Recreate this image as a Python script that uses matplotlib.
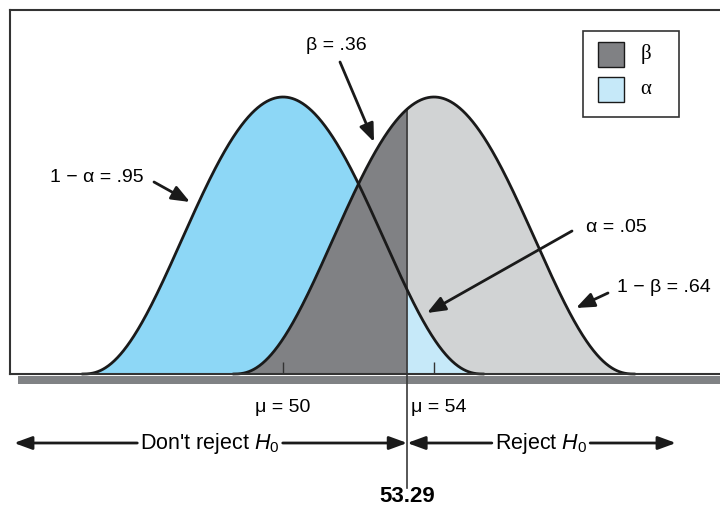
import numpy as np
import matplotlib
matplotlib.use('Agg')
import matplotlib.pyplot as plt
from matplotlib.patches import Rectangle

# values
means = [50, 54]          # mu under H0 and under H1
crit = 53.29              # critical value
mean_labels = ['μ = 50', 'μ = 54']
crit_label = '53.29'
area_labels = ['β = .36', '1 − α = .95', 'α = .05', '1 − β = .64']
legend_labels = ['β', 'α']
region_labels = ["Don't reject $H_0$", 'Reject $H_0$']

plt.rcParams['font.family'] = ['Liberation Sans', 'DejaVu Sans']
plt.rcParams['mathtext.fontset'] = 'custom'
plt.rcParams['mathtext.rm'] = 'Liberation Sans'
plt.rcParams['mathtext.it'] = 'Liberation Sans:italic'

blue = '#8dd7f6'
light_blue = '#c6e9f9'
dark_gray = '#808184'
light_gray = '#d1d3d4'
ink = '#1a1a1a'

W, H = 720, 517
fig = plt.figure(figsize=(7.2, 5.17), dpi=100)
ax = fig.add_axes([0, 0, 1, 1])
PX = 37.75                 # pixels per unit on x
x0 = means[0] - 283 / PX
ax.set_xlim(x0, x0 + W / PX)
ax.set_ylim(-(H - 374) / 277, 374 / 277)
ax.axis('off')

def X(px):
    return x0 + px / PX

def Y(py):
    return (374 - py) / 277

# stylised bell curve
half = 5.3
k = 2.45
def bell(x, mu):
    u = np.clip((np.asarray(x) - mu) / half, -1, 1)
    return (1 - u ** 2) ** k

m0, m1 = means
xl_a = np.linspace(m0 - half, crit, 400)
xl_b = np.linspace(crit, m0 + half, 400)
xr_a = np.linspace(m1 - half, crit, 400)
xr_b = np.linspace(crit, m1 + half, 400)

ax.fill_between(xr_b, bell(xr_b, m1), color=light_gray, lw=0, zorder=1)
ax.fill_between(xl_a, bell(xl_a, m0), color=blue, lw=0, zorder=2)
ax.fill_between(xr_a, bell(xr_a, m1), color=dark_gray, lw=0, zorder=3)
ax.fill_between(xl_b, bell(xl_b, m0), color=light_blue, lw=0, zorder=4)

# critical line
ax.plot([crit, crit], [Y(488), bell(crit, m1)], color='#3a3a3a', lw=1.2, zorder=5)

# curves
xl = np.linspace(m0 - half, m0 + half, 800)
xr = np.linspace(m1 - half, m1 + half, 800)
ax.plot(xl, bell(xl, m0), color=ink, lw=2, zorder=6)
ax.plot(xr, bell(xr, m1), color=ink, lw=2, zorder=6)

# mean ticks
ax.vlines(means, 0, Y(362), color='#333333', lw=1, zorder=6)

# frame and shadow
ax.add_patch(Rectangle((X(18), Y(384)), X(730) - X(18), Y(376) - Y(384),
                       color='#808285', lw=0, zorder=0))
ax.plot([X(10), X(10)], [0, Y(10)], color='#333333', lw=1.5, zorder=7)
ax.plot([X(10), X(730)], [Y(10), Y(10)], color='#333333', lw=1.5, zorder=7)
ax.plot([X(10), X(730)], [0, 0], color='#333333', lw=1.5, zorder=7)

# legend
ax.add_patch(Rectangle((X(583), Y(117)), X(679) - X(583), Y(31) - Y(117),
                       facecolor='white', edgecolor='#333333', lw=1.2, zorder=8))
for (top, col), lab in zip([(42, dark_gray), (77, light_blue)], legend_labels):
    ax.add_patch(Rectangle((X(598), Y(top + 25)), X(624) - X(598), Y(top) - Y(top + 25),
                           facecolor=col, edgecolor=ink, lw=1, zorder=9))
    ax.text(X(646), Y(top + 12), lab, fontsize=15, ha='center', va='center', zorder=9,
            family=['Liberation Serif', 'DejaVu Serif'])

# area labels with arrows
arr = dict(arrowstyle='-|>,head_length=0.55,head_width=0.22', color=ink, lw=2,
           mutation_scale=20, shrinkA=0, shrinkB=0)
labels_pos = [(336, 45), (97, 177), (616, 228), (664, 288)]
arrows = [((340, 62), (374, 142)), ((154, 182), (190, 202)),
          ((572, 231), (427, 313)), ((608, 293), (576, 308))]
for lab, (tx, ty), ((ax_, ay), (hx, hy)) in zip(area_labels, labels_pos, arrows):
    ax.text(X(tx), Y(ty), lab, fontsize=14, ha='center', va='center')
    ax.annotate('', xy=(X(hx), Y(hy)), xytext=(X(ax_), Y(ay)), arrowprops=arr)

# mean labels under the axis
ax.text(m0, Y(408), mean_labels[0], fontsize=14, ha='center', va='center')
ax.text(X(411), Y(408), mean_labels[1], fontsize=14, ha='left', va='center')
ax.text(crit, Y(497), crit_label, fontsize=16, fontweight='bold', ha='center', va='center')

# decision regions
yr = Y(443)
t0 = ax.text(X(210), yr, region_labels[0], fontsize=15.5, ha='center', va='center')
t1 = ax.text(X(541), yr, region_labels[1], fontsize=15.5, ha='center', va='center')
fig.canvas.draw()
inv = ax.transData.inverted()
def ends(t):
    bb = t.get_window_extent()
    return inv.transform((bb.x0 - 3, 0))[0], inv.transform((bb.x1 + 3, 0))[0]
l0, r0 = ends(t0)
l1, r1 = ends(t1)
arr2 = dict(arrowstyle='-|>,head_length=0.6,head_width=0.22', color=ink, lw=2,
            mutation_scale=18, shrinkA=0, shrinkB=0)
ax.annotate('', xy=(X(14), yr), xytext=(l0, yr), arrowprops=arr2)
ax.annotate('', xy=(crit, yr), xytext=(r0, yr), arrowprops=arr2)
ax.annotate('', xy=(crit, yr), xytext=(l1, yr), arrowprops=arr2)
ax.annotate('', xy=(X(676), yr), xytext=(r1, yr), arrowprops=arr2)

fig.savefig('out.png', dpi=100)
